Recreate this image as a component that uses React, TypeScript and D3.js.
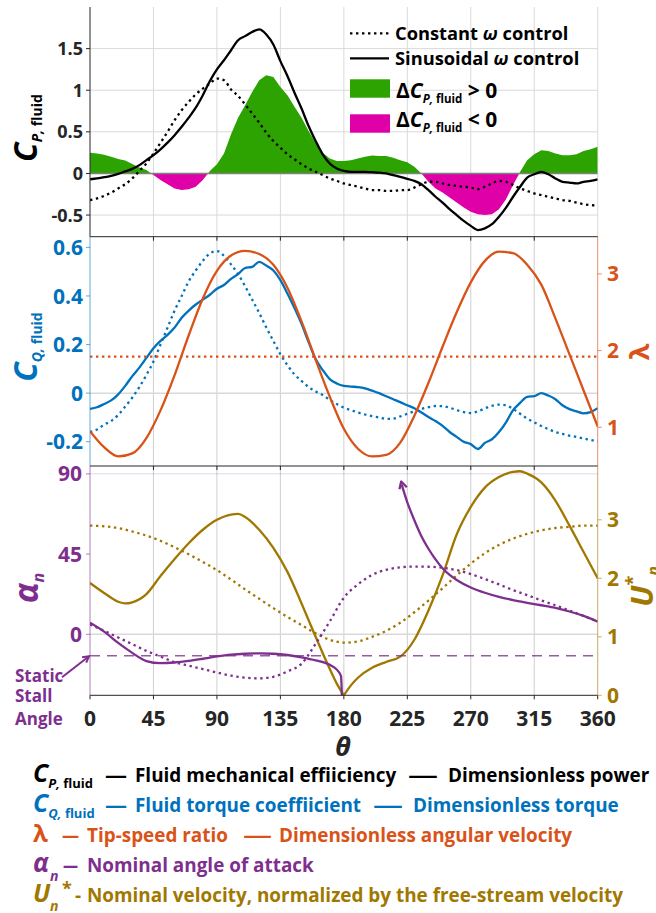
import React from 'react';
import * as d3 from 'd3';

// ---- data ----
const THETA_5 = [0, 5, 10, 15, 20, 25, 30, 35, 40, 45, 50, 55, 60, 65, 70, 75, 80, 85, 90, 95, 100, 105, 110, 115, 120, 125, 130, 135, 140, 145, 150, 155, 160, 165, 170, 175, 180, 185, 190, 195, 200, 205, 210, 215, 220, 225, 230, 235, 240, 245, 250, 255, 260, 265, 270, 275, 280, 285, 290, 295, 300, 305, 310, 315, 320, 325, 330, 335, 340, 345, 350, 355, 360];
const THETA_10 = [0, 10, 20, 30, 40, 50, 60, 70, 80, 90, 100, 110, 120, 130, 140, 150, 160, 170, 180, 190, 200, 210, 220, 230, 240, 250, 260, 270, 280, 290, 300, 310, 320, 330, 340, 350, 360];

const CP_SINUSOIDAL = [-0.07, -0.06, -0.045, -0.03, -0.005, 0.025, 0.055, 0.1, 0.16, 0.22, 0.29, 0.37, 0.46, 0.56, 0.67, 0.79, 0.94, 1.11, 1.25, 1.36, 1.48, 1.6, 1.65, 1.7, 1.73, 1.67, 1.55, 1.35, 1.17, 0.97, 0.78, 0.57, 0.39, 0.23, 0.12, 0.06, 0.03, 0.02, 0.02, 0.02, 0.015, 0.01, 0.0, -0.02, -0.04, -0.065, -0.09, -0.13, -0.2, -0.28, -0.35, -0.43, -0.5, -0.57, -0.63, -0.68, -0.66, -0.61, -0.52, -0.41, -0.28, -0.16, -0.05, -0.01, 0.02, -0.01, -0.06, -0.1, -0.11, -0.12, -0.1, -0.09, -0.07];
const CP_CONSTANT = [-0.32, -0.3, -0.27, -0.23, -0.18, -0.13, -0.06, 0.03, 0.12, 0.24, 0.37, 0.5, 0.64, 0.76, 0.86, 0.95, 1.02, 1.08, 1.14, 1.12, 1.01, 0.93, 0.83, 0.72, 0.61, 0.49, 0.39, 0.31, 0.23, 0.17, 0.11, 0.06, 0.02, -0.02, -0.06, -0.09, -0.12, -0.14, -0.16, -0.18, -0.2, -0.2, -0.21, -0.21, -0.2, -0.2, -0.17, -0.13, -0.1, -0.1, -0.12, -0.14, -0.15, -0.16, -0.17, -0.19, -0.16, -0.12, -0.09, -0.1, -0.14, -0.18, -0.21, -0.24, -0.26, -0.28, -0.3, -0.32, -0.33, -0.35, -0.37, -0.38, -0.39];

const CQ_SINUSOIDAL = [-0.065, -0.058, -0.045, -0.03, -0.005, 0.03, 0.07, 0.105, 0.145, 0.185, 0.215, 0.24, 0.27, 0.31, 0.34, 0.365, 0.385, 0.405, 0.43, 0.445, 0.47, 0.49, 0.515, 0.52, 0.54, 0.525, 0.505, 0.465, 0.41, 0.35, 0.285, 0.21, 0.14, 0.095, 0.058, 0.04, 0.03, 0.027, 0.025, 0.02, 0.01, 0.0, -0.013, -0.025, -0.037, -0.05, -0.062, -0.08, -0.098, -0.115, -0.135, -0.16, -0.18, -0.2, -0.21, -0.23, -0.205, -0.19, -0.16, -0.12, -0.07, -0.04, -0.015, -0.012, 0.0, -0.01, -0.025, -0.05, -0.066, -0.075, -0.083, -0.078, -0.062];
const CQ_CONSTANT = [-0.16, -0.15, -0.13, -0.115, -0.09, -0.055, -0.018, 0.025, 0.075, 0.13, 0.2, 0.27, 0.34, 0.4, 0.46, 0.505, 0.545, 0.575, 0.585, 0.565, 0.53, 0.49, 0.44, 0.385, 0.33, 0.27, 0.215, 0.16, 0.115, 0.077, 0.05, 0.025, 0.007, -0.008, -0.028, -0.045, -0.06, -0.07, -0.08, -0.088, -0.095, -0.1, -0.106, -0.105, -0.096, -0.085, -0.075, -0.065, -0.058, -0.053, -0.054, -0.06, -0.07, -0.078, -0.082, -0.075, -0.063, -0.052, -0.047, -0.05, -0.065, -0.085, -0.105, -0.12, -0.135, -0.148, -0.16, -0.168, -0.175, -0.18, -0.187, -0.193, -0.2];

const LAMBDA_SINUSOIDAL = [0.95, 0.74, 0.62, 0.66, 0.86, 1.22, 1.68, 2.2, 2.68, 3.04, 3.24, 3.3, 3.26, 3.12, 2.82, 2.38, 1.88, 1.4, 0.98, 0.72, 0.62, 0.64, 0.8, 1.15, 1.58, 2.05, 2.5, 2.89, 3.17, 3.29, 3.27, 3.12, 2.86, 2.42, 1.95, 1.48, 1.01];
const LAMBDA_CONSTANT = 1.92;

const ALPHA_SIN_THETA_A = [0, 10, 20, 30, 40, 50, 60, 70, 80, 90, 100, 110, 120, 130, 140, 150, 160, 170, 175, 178, 178.6];
const ALPHA_SIN_A = [6.5, 1.5, -4.8, -10.4, -15, -16.2, -15.8, -14.9, -13.7, -12.4, -11.4, -10.9, -10.7, -10.9, -11.6, -12.9, -14.6, -17.1, -19.8, -23.5, -34.2];
const ALPHA_SIN_THETA_B = [221, 225, 230, 235, 240, 245, 250, 255, 260, 270, 280, 290, 300, 310, 320, 330, 340, 350, 360];
const ALPHA_SIN_B = [84, 74, 64, 55, 48, 42, 37, 33.3, 30.5, 26.3, 23.3, 21, 19.2, 17.7, 16.3, 14.8, 12.8, 10.3, 7.1];
const ALPHA_CONSTANT = [5.5, 2, -1.8, -5.5, -9.3, -12.5, -15.6, -17.6, -19.5, -21.4, -23.2, -24.3, -24.7, -23.8, -20.8, -16.5, -5.3, 7.2, 20.5, 28, 33.3, 36.2, 37.6, 38, 37.9, 37.3, 36, 33.8, 31, 28, 24.8, 22, 19, 16.3, 13.3, 10.3, 7.1];
const STALL_ANGLE = -12;

const U_SIN_THETA_A = [0, 10, 20, 25, 30, 40, 50, 60, 70, 80, 90, 100, 105, 110, 120, 130, 140, 150, 160, 170, 175, 180];
const U_SIN_A = [1.92, 1.75, 1.6, 1.57, 1.59, 1.73, 2.04, 2.33, 2.6, 2.83, 3.0, 3.09, 3.1, 3.05, 2.83, 2.52, 2.11, 1.57, 1.0, 0.45, 0.2, 0.0];
const U_SIN_THETA_B = [180, 185, 190, 200, 210, 220, 230, 240, 250, 260, 270, 280, 290, 300, 305, 310, 320, 330, 340, 350, 360];
const U_SIN_B = [0.0, 0.17, 0.3, 0.47, 0.57, 0.66, 0.95, 1.45, 2.05, 2.75, 3.22, 3.55, 3.73, 3.82, 3.83, 3.79, 3.64, 3.33, 2.9, 2.45, 2.0];
const U_CONSTANT = [2.9, 2.89, 2.86, 2.8, 2.73, 2.64, 2.53, 2.41, 2.28, 2.14, 1.98, 1.81, 1.65, 1.49, 1.34, 1.2, 1.06, 0.95, 0.9, 0.92, 1.0, 1.1, 1.24, 1.42, 1.62, 1.83, 2.05, 2.25, 2.43, 2.57, 2.68, 2.76, 2.82, 2.86, 2.88, 2.9, 2.9];

const X_TICKS = [0, 45, 90, 135, 180, 225, 270, 315, 360];
const CP_TICKS = [-0.5, 0, 0.5, 1, 1.5];
const CQ_TICKS = [-0.2, 0, 0.2, 0.4, 0.6];
const LAMBDA_TICKS = [1, 2, 3];
const ALPHA_TICKS = [0, 45, 90];
const U_TICKS = [0, 1, 2, 3];

// ---- styles ----
const FONT = "'Open Sans', 'DejaVu Sans', sans-serif";
const AXIS = '#262626';
const BLUE = '#0072BD';
const ORANGE = '#D95319';
const PURPLE = '#7E2F8E';
const GOLD = '#A07800';
const GREEN = '#2CA300';
const MAGENTA = '#E000A8';
const GRID = '#d9d9d9';
const LW = 2.3;
const DOT = '2.4 3.6';

const X0 = 90;
const X1 = 597.7;
const P1 = { top: 7, bottom: 236.7 };
const P2 = { top: 236.7, bottom: 466 };
const P3 = { top: 466, bottom: 695.3 };

const x = d3.scaleLinear().domain([0, 360]).range([X0, X1]);
const yCP = d3.scaleLinear().domain([-0.76, 2.0]).range([P1.bottom, P1.top]);
const yCQ = d3.scaleLinear().domain([-0.3, 0.644]).range([P2.bottom, P2.top]);
const yLam = d3.scaleLinear().domain([0.495, 3.485]).range([P2.bottom, P2.top]);
const yA = d3.scaleLinear().domain([-34.2, 94.4]).range([P3.bottom, P3.top]);
const yU = d3.scaleLinear().domain([0, 3.92]).range([P3.bottom, P3.top]);

function path(xs: number[], ys: number[], sc: d3.ScaleLinear<number, number>, curve: d3.CurveFactory = d3.curveMonotoneX) {
  return d3.line<number>().x((_, i) => x(xs[i])).y((d) => sc(d)).curve(curve)(ys) || '';
}

// split the power difference into positive / negative parts (with zero crossings)
function deltaParts(sign: number) {
  const delta = CP_SINUSOIDAL.map((v, i) => v - CP_CONSTANT[i]);
  const pts: [number, number][] = [];
  delta.forEach((d, i) => {
    pts.push([THETA_5[i], sign > 0 ? Math.max(d, 0) : Math.min(d, 0)]);
    const n = delta[i + 1];
    if (n !== undefined && d * n < 0) {
      const t = THETA_5[i] + ((THETA_5[i + 1] - THETA_5[i]) * d) / (d - n);
      pts.push([t, 0]);
    }
  });
  return d3.area<[number, number]>().x((p) => x(p[0])).y0(yCP(0)).y1((p) => yCP(p[1]))(pts) || '';
}

function chevron(tipX: number, tipY: number, fromX: number, fromY: number, len: number) {
  const a = Math.atan2(tipY - fromY, tipX - fromX);
  const s = 0.5;
  const p1 = [tipX - len * Math.cos(a - s), tipY - len * Math.sin(a - s)];
  const p2 = [tipX - len * Math.cos(a + s), tipY - len * Math.sin(a + s)];
  return `M${p1[0]},${p1[1]}L${tipX},${tipY}L${p2[0]},${p2[1]}`;
}

const fmt = (v: number) => String(v);

export default function App() {
  const inner = X_TICKS.slice(1, -1);
  const arrowTipX = x(ALPHA_SIN_THETA_B[0]);
  const arrowTipY = yA(ALPHA_SIN_B[0]);
  const stallX = x(0);
  const stallY = yA(STALL_ANGLE);

  return (
    <div style={{ position: 'absolute', left: 0, top: 0 }}>
      <svg width={656} height={913} style={{ display: 'block', background: '#fff' }} fontFamily={FONT} fontWeight="bold">
        <defs>
          <clipPath id="c1"><rect x={X0} y={P1.top} width={X1 - X0} height={P1.bottom - P1.top} /></clipPath>
          <clipPath id="c2"><rect x={X0} y={P2.top} width={X1 - X0} height={P2.bottom - P2.top} /></clipPath>
          <clipPath id="c3"><rect x={X0} y={P3.top} width={X1 - X0} height={P3.bottom - P3.top + 1} /></clipPath>
        </defs>

        {/* ===== panel 1: power coefficient ===== */}
        {[...inner, 360].map((t) => (
          <line key={'g1' + t} x1={x(t)} x2={x(t)} y1={P1.top} y2={P1.bottom} stroke={GRID} />
        ))}
        {CP_TICKS.map((v) => (
          <line key={'h1' + v} x1={X0} x2={X1} y1={yCP(v)} y2={yCP(v)} stroke={GRID} />
        ))}
        <g clipPath="url(#c1)">
          <path d={deltaParts(1)} fill={GREEN} />
          <path d={deltaParts(-1)} fill={MAGENTA} />
          <line x1={X0} x2={X1} y1={yCP(0)} y2={yCP(0)} stroke="#808080" strokeWidth={1.5} />
          <path d={path(THETA_5, CP_CONSTANT, yCP)} fill="none" stroke="#000" strokeWidth={LW} strokeDasharray={DOT} />
          <path d={path(THETA_5, CP_SINUSOIDAL, yCP)} fill="none" stroke="#000" strokeWidth={LW} />
        </g>
        <line x1={X0} x2={X0} y1={P1.top} y2={P1.bottom} stroke={AXIS} />
        {CP_TICKS.map((v) => (
          <g key={'t1' + v}>
            <line x1={X0 - 4} x2={X0} y1={yCP(v)} y2={yCP(v)} stroke={AXIS} />
            <text x={83} y={yCP(v)} dy="0.36em" textAnchor="end" fontSize={18} fill={AXIS}>{fmt(v)}</text>
          </g>
        ))}
        <text transform={`translate(37,128) rotate(-90)`} textAnchor="middle" fill="#000">
          <tspan fontSize={32} fontStyle="italic">C</tspan>
          <tspan fontSize={14} fontStyle="italic" dy={5}>P,</tspan>
          <tspan fontSize={14}> fluid</tspan>
        </text>

        {/* legend */}
        <line x1={350} x2={389} y1={33.3} y2={33.3} stroke="#000" strokeWidth={LW} strokeDasharray={DOT} />
        <text x={395} y={40} fontSize={18.3} fill="#000">Constant <tspan fontStyle="italic">ω</tspan> control</text>
        <line x1={350} x2={389} y1={58.3} y2={58.3} stroke="#000" strokeWidth={LW} />
        <text x={395} y={65} fontSize={18.3} fill="#000">Sinusoidal <tspan fontStyle="italic">ω</tspan> control</text>
        <rect x={350} y={79.3} width={40} height={18.4} fill={GREEN} />
        <text x={396} y={98} fontSize={21} fill="#000">
          Δ<tspan fontStyle="italic">C</tspan>
          <tspan fontSize={11.5} fontStyle="italic" dy={5}>P,</tspan>
          <tspan fontSize={11.5}> fluid</tspan>
          <tspan dy={-5}> &gt; 0</tspan>
        </text>
        <rect x={350} y={114.3} width={40} height={18.4} fill={MAGENTA} />
        <text x={396} y={127} fontSize={21} fill="#000">
          Δ<tspan fontStyle="italic">C</tspan>
          <tspan fontSize={11.5} fontStyle="italic" dy={5}>P,</tspan>
          <tspan fontSize={11.5}> fluid</tspan>
          <tspan dy={-5}> &lt; 0</tspan>
        </text>

        {/* ===== panel 2: torque / tip-speed ratio ===== */}
        {inner.map((t) => (
          <line key={'g2' + t} x1={x(t)} x2={x(t)} y1={P2.top} y2={P2.bottom} stroke="#cfcfcf" />
        ))}
        <line x1={X0} x2={X1} y1={yCQ(0)} y2={yCQ(0)} stroke={GRID} strokeWidth={1.5} />
        <g clipPath="url(#c2)">
          <path d={path(THETA_5, CQ_CONSTANT, yCQ)} fill="none" stroke={BLUE} strokeWidth={LW} strokeDasharray={DOT} />
          <path d={path(THETA_5, CQ_SINUSOIDAL, yCQ)} fill="none" stroke={BLUE} strokeWidth={LW} />
          <line x1={X0} x2={X1} y1={yLam(LAMBDA_CONSTANT)} y2={yLam(LAMBDA_CONSTANT)} stroke={ORANGE} strokeWidth={LW} strokeDasharray={DOT} />
          <path d={path(THETA_10, LAMBDA_SINUSOIDAL, yLam)} fill="none" stroke={ORANGE} strokeWidth={LW} />
        </g>
        <line x1={X0} x2={X1} y1={P2.top} y2={P2.top} stroke={AXIS} />
        {inner.map((t) => (
          <line key={'tt2' + t} x1={x(t)} x2={x(t)} y1={P2.top} y2={P2.top + 4} stroke={AXIS} />
        ))}
        <line x1={X0} x2={X0} y1={P2.top} y2={P2.bottom} stroke={BLUE} strokeOpacity={0.6} />
        {CQ_TICKS.map((v) => (
          <g key={'t2' + v}>
            <line x1={X0 - 4} x2={X0} y1={yCQ(v)} y2={yCQ(v)} stroke={BLUE} strokeOpacity={0.6} />
            <text x={83} y={yCQ(v)} dy="0.36em" textAnchor="end" fontSize={21} fill={BLUE}>{fmt(v)}</text>
          </g>
        ))}
        <line x1={X1} x2={X1} y1={P2.top} y2={P2.bottom} stroke={ORANGE} strokeOpacity={0.65} />
        {LAMBDA_TICKS.map((v) => (
          <g key={'r2' + v}>
            <line x1={X1} x2={X1 + 4} y1={yLam(v)} y2={yLam(v)} stroke={ORANGE} strokeOpacity={0.65} />
            <text x={607} y={yLam(v)} dy="0.36em" fontSize={21} fill={ORANGE}>{fmt(v)}</text>
          </g>
        ))}
        <text transform={`translate(37,347) rotate(-90)`} textAnchor="middle" fill={BLUE}>
          <tspan fontSize={32} fontStyle="italic">C</tspan>
          <tspan fontSize={14} fontStyle="italic" dy={5}>Q,</tspan>
          <tspan fontSize={14}> fluid</tspan>
        </text>
        <text transform={`translate(649,352) rotate(-90)`} textAnchor="middle" fontSize={27} fill={ORANGE}>λ</text>

        {/* ===== panel 3: angle of attack / nominal velocity ===== */}
        {inner.map((t) => (
          <line key={'g3' + t} x1={x(t)} x2={x(t)} y1={P3.top} y2={P3.bottom} stroke="#cfcfcf" />
        ))}
        <line x1={X0} x2={X1} y1={yA(0)} y2={yA(0)} stroke={GRID} strokeWidth={1.5} />
        <line x1={X0} x2={X1} y1={yA(90)} y2={yA(90)} stroke={PURPLE} strokeOpacity={0.2} />
        <g clipPath="url(#c3)">
          <path d={path(THETA_10, U_CONSTANT, yU)} fill="none" stroke={GOLD} strokeWidth={LW} strokeDasharray={DOT} />
          <path d={path(U_SIN_THETA_A, U_SIN_A, yU)} fill="none" stroke={GOLD} strokeWidth={LW} />
          <path d={path(U_SIN_THETA_B, U_SIN_B, yU)} fill="none" stroke={GOLD} strokeWidth={LW} />
          <line x1={X0} x2={X1} y1={stallY} y2={stallY} stroke={PURPLE} strokeOpacity={0.8} strokeWidth={1.5} strokeDasharray="10 7" />
          <path d={path(THETA_10, ALPHA_CONSTANT, yA)} fill="none" stroke={PURPLE} strokeWidth={LW} strokeDasharray={DOT} />
          <path d={path(ALPHA_SIN_THETA_A, ALPHA_SIN_A, yA)} fill="none" stroke={PURPLE} strokeWidth={LW} />
          <path d={path(ALPHA_SIN_THETA_B, ALPHA_SIN_B, yA)} fill="none" stroke={PURPLE} strokeWidth={LW} />
          <path d={chevron(arrowTipX - 0.5, arrowTipY - 3, x(ALPHA_SIN_THETA_B[1]), yA(ALPHA_SIN_B[1]), 8)} fill="none" stroke={PURPLE} strokeWidth={LW} strokeLinejoin="round" />
        </g>
        <line x1={X0} x2={X1} y1={P3.top} y2={P3.top} stroke={AXIS} />
        {inner.map((t) => (
          <line key={'tt3' + t} x1={x(t)} x2={x(t)} y1={P3.top} y2={P3.top + 4} stroke={AXIS} />
        ))}
        <line x1={X0} x2={X1} y1={P3.bottom} y2={P3.bottom} stroke={AXIS} />
        {X_TICKS.map((t) => (
          <g key={'xb' + t}>
            <line x1={x(t)} x2={x(t)} y1={P3.bottom} y2={P3.bottom + 4} stroke={AXIS} />
            <text x={x(t)} y={726} textAnchor="middle" fontSize={21} fill={AXIS}>{t}</text>
          </g>
        ))}
        <line x1={X0} x2={X0} y1={P3.top} y2={P3.bottom} stroke={PURPLE} strokeOpacity={0.6} />
        {ALPHA_TICKS.map((v) => (
          <g key={'t3' + v}>
            <line x1={X0 - 4} x2={X0} y1={yA(v)} y2={yA(v)} stroke={PURPLE} strokeOpacity={0.6} />
            <text x={82} y={yA(v)} dy="0.36em" textAnchor="end" fontSize={21} fill={PURPLE}>{v}</text>
          </g>
        ))}
        <line x1={X1} x2={X1} y1={P3.top} y2={P3.bottom} stroke={GOLD} strokeOpacity={0.6} />
        {U_TICKS.map((v) => (
          <g key={'r3' + v}>
            <line x1={X1} x2={X1 + 4} y1={yU(v)} y2={yU(v)} stroke={GOLD} strokeOpacity={0.6} />
            <text x={607} y={yU(v)} dy="0.36em" fontSize={21} fill={GOLD}>{v}</text>
          </g>
        ))}
        <text transform={`translate(38,588) rotate(-90)`} textAnchor="middle" fill={PURPLE}>
          <tspan fontSize={34} fontStyle="italic">α</tspan>
          <tspan fontSize={16} fontStyle="italic" dy={6}>n</tspan>
        </text>
        <text transform={`translate(653,607) rotate(-90)`} fill={GOLD}>
          <tspan fontSize={31} fontStyle="italic">U</tspan>
          <tspan fontSize={18} dy={-14}>*</tspan>
          <tspan fontSize={16} fontStyle="italic" dy={20}>n</tspan>
        </text>

        {/* static stall annotation */}
        <g fill={PURPLE} fontSize={17}>
          <text x={15} y={682}>Static</text>
          <text x={15} y={702}>Stall</text>
          <text x={15} y={725}>Angle</text>
        </g>
        <line x1={stallX - 28} y1={stallY + 21.5} x2={stallX - 1} y2={stallY + 0.5} stroke={PURPLE} strokeWidth={2} />
        <path d={chevron(stallX - 1, stallY + 0.5, stallX - 28, stallY + 21.5, 7)} fill="none" stroke={PURPLE} strokeWidth={2} />

        <text x={343} y={756} textAnchor="middle" fontSize={27} fontStyle="italic" fill={AXIS}>θ</text>

        {/* ===== symbol legend below ===== */}
        <g fontSize={18.9}>
          <text y={782} fill="#000">
            <tspan x={33} fontSize={25} fontStyle="italic">C</tspan>
            <tspan fontSize={13} fontStyle="italic" dy={6}>P,</tspan>
            <tspan fontSize={13}> fluid</tspan>
          </text>
          <text x={105} y={782} fill="#000" textLength={22} lengthAdjust="spacingAndGlyphs">—</text>
          <text x={135} y={782} fill="#000">Fluid mechanical effiiciency</text>
          <text x={408} y={782} fill="#000" textLength={30} lengthAdjust="spacingAndGlyphs">—</text>
          <text x={448} y={782} fill="#000">Dimensionless power</text>

          <text y={812} fill={BLUE}>
            <tspan x={33} fontSize={25} fontStyle="italic">C</tspan>
            <tspan fontSize={13} fontStyle="italic" dy={6}>Q,</tspan>
            <tspan fontSize={13}> fluid</tspan>
          </text>
          <text x={105} y={812} fill={BLUE} textLength={22} lengthAdjust="spacingAndGlyphs">—</text>
          <text x={135} y={812} fill={BLUE}>Fluid torque coeffiicient</text>
          <text x={373} y={812} fill={BLUE} textLength={30} lengthAdjust="spacingAndGlyphs">—</text>
          <text x={413} y={812} fill={BLUE}>Dimensionless torque</text>

          <text x={33} y={842} fill={ORANGE} fontSize={24}>λ</text>
          <text x={62} y={842} fill={ORANGE} textLength={17} lengthAdjust="spacingAndGlyphs">—</text>
          <text x={87} y={842} fill={ORANGE}>Tip-speed ratio</text>
          <text x={243} y={842} fill={ORANGE} textLength={29} lengthAdjust="spacingAndGlyphs">—</text>
          <text x={279} y={842} fill={ORANGE}>Dimensionless angular velocity</text>

          <text y={872} fill={PURPLE}>
            <tspan x={33} fontSize={26} fontStyle="italic">α</tspan>
            <tspan x={50} y={881} fontSize={14} fontStyle="italic">n</tspan>
          </text>
          <text x={63} y={872} fill={PURPLE} textLength={15} lengthAdjust="spacingAndGlyphs">—</text>
          <text x={87} y={872} fill={PURPLE}>Nominal angle of attack</text>

          <text y={902} fill={GOLD}>
            <tspan x={33} fontSize={25} fontStyle="italic">U</tspan>
            <tspan x={50} y={911} fontSize={14} fontStyle="italic">n</tspan>
            <tspan x={62} y={895} fontSize={18}>*</tspan>
          </text>
          <text x={75} y={902} fill={GOLD}>-</text>
          <text x={87} y={902} fill={GOLD}>Nominal velocity, normalized by the free-stream velocity</text>
        </g>
      </svg>
    </div>
  );
}
